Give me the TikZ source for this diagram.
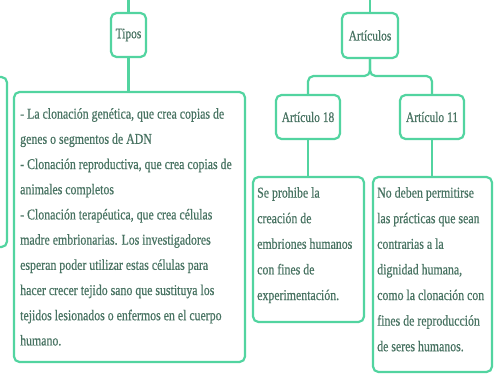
\documentclass[tikz,border=0pt]{standalone}
\usepackage{fontspec}
\setmainfont{Liberation Serif}[FakeStretch=0.79,FakeBold=0.5]
\definecolor{mint}{RGB}{82,212,160}
\definecolor{txt}{RGB}{72,115,98}
\begin{document}
\begin{tikzpicture}[x=1pt,y=-1pt,
  box/.style={draw=mint,line width=2.2pt,rounded corners=5.5pt,fill=white,inner sep=0pt},
  conn/.style={draw=mint,line width=2.2pt,rounded corners=5.5pt},
  body/.style={anchor=north west,inner sep=0pt,align=left,text=txt,font=\fontsize{15}{25.2}\selectfont},
  lbl/.style={text=txt,font=\fontsize{14.5}{16}\selectfont}]
\useasboundingbox (0,0) rectangle (497,377);
\fill[white] (0,0) rectangle (497,377);
% left partial box
\draw[conn] (-30,77) rectangle (7,247);
% nodes
\node[box,minimum width=35pt,minimum height=44pt] (tipos) at (128.5,35) {};
\node[lbl] (tiposl) at (tipos.center) {Tipos};
\node[box,minimum width=231pt,minimum height=270pt] (big) at (129.5,227) {};
\node[body] (bigt) at (20,108) {- La clonación genética, que crea copias de\\genes o segmentos de ADN\\- Clonación reproductiva, que crea copias de\\animales completos\\- Clonación terapéutica, que crea células\\madre embrionarias. Los investigadores\\esperan poder utilizar estas células para\\hacer crecer tejido sano que sustituya los\\tejidos lesionados o enfermos en el cuerpo\\humano.};
\node[box,minimum width=56pt,minimum height=45pt] (art) at (370,35.5) {};
\node[lbl] (artl) at (art.center) {Artículos};
\node[box,minimum width=64pt,minimum height=44pt] (a18) at (308,117) {};
\node[lbl] (a18l) at (a18.center) {Artículo 18};
\node[box,minimum width=64pt,minimum height=44pt] (a11) at (432,117) {};
\node[lbl] (a11l) at (a11.center) {Artículo 11};
\node[box,minimum width=111pt,minimum height=145pt] (b18) at (308.5,249.5) {};
\node[body,font=\fontsize{15}{25.6}\selectfont] (b18t) at (257,187) {Se prohibe la\\creación de\\embriones humanos\\con fines de\\experimentación.};
\node[box,minimum width=119pt,minimum height=195pt] (b11) at (432.5,274.5) {};
\node[body,font=\fontsize{15}{25.6}\selectfont] (b11t) at (377,187) {No deben permitirse\\las prácticas que sean\\contrarias a la\\dignidad humana,\\como la clonación con\\fines de reproducción\\de seres humanos.};
% connectors
\coordinate (ttop) at (128.5,-5);
\coordinate (atop) at (370,-5);
\draw[conn] (ttop) -- (tipos.north);
\draw[conn] (atop) -- (art.north);
\draw[conn] (tipos.south) -- (big.north -| tipos.south);
\draw[conn] (art.south) -- (370,76) -| (a18.north);
\draw[conn] (art.south) -- (370,76) -| (a11.north);
\draw[conn] (a18.south) -- (b18.north -| a18.south);
\draw[conn] (a11.south) -- (b11.north -| a11.south);
\end{tikzpicture}
\end{document}
